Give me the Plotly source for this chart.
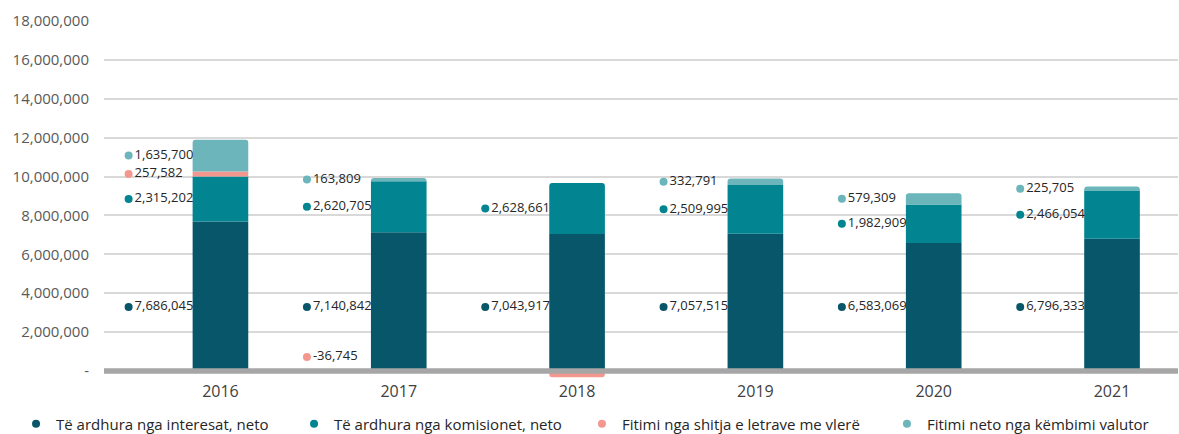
import plotly.graph_objects as go

years = ["2016", "2017", "2018", "2019", "2020", "2021"]
interest = [7686045, 7140842, 7043917, 7057515, 6583069, 6796333]
commission = [2315202, 2620705, 2628661, 2509995, 1982909, 2466054]
securities = [257582, -36745, -320000, 0, 0, 0]
fx = [1635700, 163809, 0, 332791, 579309, 225705]
securities_labelled = [True, True, False, False, False, False]
fx_labelled = [True, True, False, True, True, True]

names = [
    "Të ardhura nga interesat, neto",
    "Të ardhura nga komisionet, neto",
    "Fitimi nga shitja e letrave me vlerë",
    "Fitimi neto nga këmbimi valutor",
]
colors = ["#08566A", "#028590", "#F4978E", "#6BB5BB"]

ytick_vals = list(range(0, 18000001, 2000000))
ytick_text = ["-"] + [f"{v:,}" for v in ytick_vals[1:]]

Y_MAX = 18000000
Y_MIN = -360000
BAR_W = 0.312
LABEL_DX = -0.515
FONT = "Open Sans"
LEGEND_X = [0.0136, 0.2494, 0.4936, 0.7523]  # one legend box per entry

idx = list(range(len(years)))
series = [interest, commission, securities, fx]

fig = go.Figure()
for vals, name, col in zip(series, names, colors):
    fig.add_trace(go.Bar(x=idx, y=vals, width=BAR_W, marker_color=col,
                         marker_line_width=0, name=name, showlegend=False,
                         hoverinfo="skip"))

# label positions derived from the stacked values
lab_x = [i + LABEL_DX for i in idx]
int_y = [min(interest) / 2 for _ in idx]
com_y = [a + b / 2 for a, b in zip(interest, commission)]
sec_y = []
for a, b, s in zip(interest, commission, securities):
    sec_y.append(a + b + s / 2 if s > 0 else Y_MAX * 0.04)
fx_y = [a + b + max(s, 0) + f / 2 for a, b, s, f in zip(interest, commission, securities, fx)]

def add_labels(xs, ys, vals, mask, col):
    px_, py_, pt_ = [], [], []
    for x, y, v, m in zip(xs, ys, vals, mask):
        if m:
            px_.append(x); py_.append(y); pt_.append(f"{v:,}")
    fig.add_trace(go.Scatter(x=px_, y=py_, text=pt_, mode="markers+text",
                             textposition="middle right",
                             marker=dict(size=8, color=col),
                             textfont=dict(family=FONT, size=13, color="#262626"),
                             showlegend=False, hoverinfo="skip", cliponaxis=False))

add_labels(lab_x, int_y, interest, [True] * 6, colors[0])
add_labels(lab_x, com_y, commission, [True] * 6, colors[1])
add_labels(lab_x, sec_y, securities, securities_labelled, colors[2])
add_labels(lab_x, fx_y, fx, fx_labelled, colors[3])

# legend entries with round keys, each in its own legend box
legend_layout = {}
for k, (name, col) in enumerate(zip(names, colors)):
    lname = "legend" if k == 0 else f"legend{k + 1}"
    fig.add_trace(go.Scatter(x=[None], y=[None], mode="markers", name=name,
                             legend=lname,
                             marker=dict(size=8, color=col, symbol="circle")))
    legend_layout[lname] = dict(
        orientation="h", xref="container", yref="container",
        x=LEGEND_X[k], y=0.023, xanchor="left", yanchor="middle",
        font=dict(family=FONT, size=15, color="#262626"),
        bgcolor="rgba(0,0,0,0)",
        itemclick=False, itemdoubleclick=False)

fig.add_shape(type="line", xref="paper", yref="y", x0=0, x1=1, y0=0, y1=0,
              line=dict(color="#A6A6A6", width=5.4), layer="above")

fig.update_layout(
    width=1179, height=434,
    barmode="relative",
    barcornerradius=3,
    plot_bgcolor="white", paper_bgcolor="white",
    margin=dict(l=104, r=1, t=21, b=56, autoexpand=False),
    font=dict(family=FONT, color="#404040"),
    xaxis=dict(range=[-0.653, 5.37], tickvals=idx, ticktext=years,
               showgrid=False, zeroline=False, showline=False, automargin=False,
               tickfont=dict(family=FONT, size=16, color="#404040"),
               ticks="", ticklabelstandoff=2),
    yaxis=dict(range=[Y_MIN, Y_MAX], tickvals=ytick_vals, ticktext=ytick_text,
               showgrid=True, gridcolor="#D9D9D9", gridwidth=1.5, automargin=False,
               zeroline=False, showline=False, ticks="",
               tickfont=dict(family=FONT, size=15, color="#595959"),
               ticklabelstandoff=14),
    hovermode=False,
    **legend_layout,
)

fig.write_html("out.html", post_script="document.body.style.margin='0';",
               config={"displayModeBar": False})
